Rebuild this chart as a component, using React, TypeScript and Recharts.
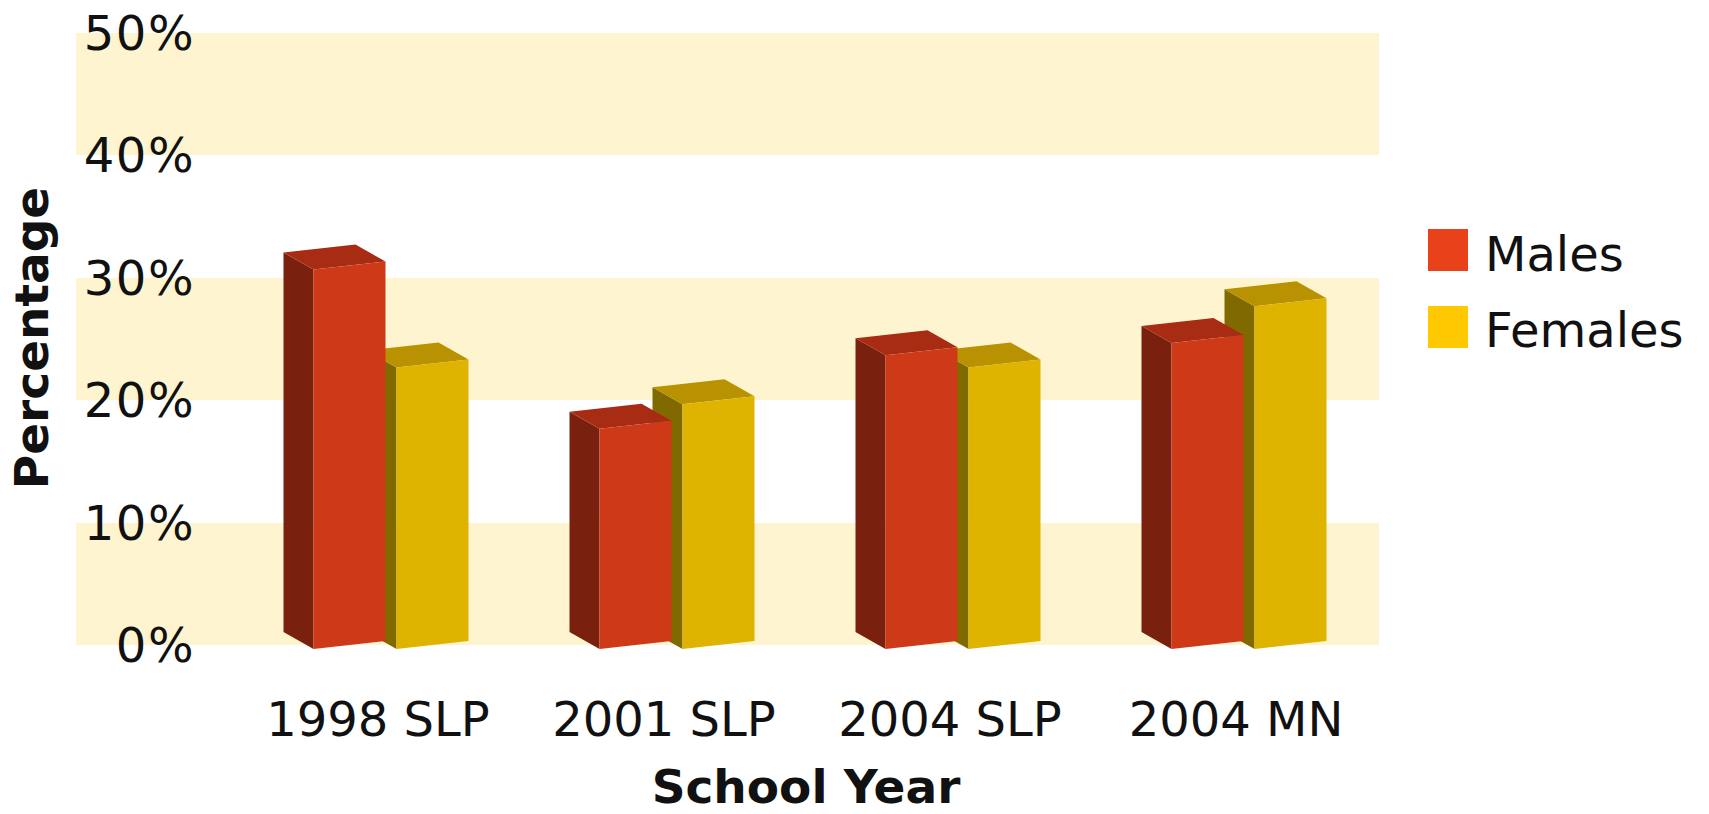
import React from 'react';
import { BarChart, Bar, XAxis, YAxis, CartesianGrid, Legend, Label } from 'recharts';

const categories = ['1998 SLP', '2001 SLP', '2004 SLP', '2004 MN'];
const males = [31, 18, 24, 25];
const females = [23, 20, 23, 28];
const yTicks = [0, 10, 20, 30, 40, 50];
const seriesNames = ['Males', 'Females'];
const legendColors = ['#E9411A', '#FFC800'];

const data = categories.map((c, i) => ({ category: c, Males: males[i], Females: females[i] }));

const FONT = '"DejaVu Sans", Verdana, sans-serif';
const DX = 30;
const DY = 17;
const SL = 4;

const Bar3D = (props: any) => {
  const { x, y, width, height, front, side, top } = props;
  if (x == null || y == null || width == null || height == null) return null;
  const x0 = x;
  const x1 = x + width;
  const yt = y;
  const yb = y + height;
  const frontPts = `${x0},${yt + SL} ${x1},${yt - SL} ${x1},${yb - SL} ${x0},${yb + SL}`;
  const sidePts = `${x0},${yt + SL} ${x0 - DX},${yt + SL - DY} ${x0 - DX},${yb + SL - DY} ${x0},${yb + SL}`;
  const topPts = `${x0},${yt + SL} ${x1},${yt - SL} ${x1 - DX},${yt - SL - DY} ${x0 - DX},${yt + SL - DY}`;
  return (
    <g>
      <polygon points={sidePts} fill={side} />
      <polygon points={topPts} fill={top} />
      <polygon points={frontPts} fill={front} />
    </g>
  );
};

const CatTick = (props: any) => {
  const { x, y, payload } = props;
  return (
    <text x={x} y={y} dy={61} textAnchor="middle" fontSize={48} fontFamily={FONT} fill="#111">
      {payload.value}
    </text>
  );
};

const PctTick = (props: any) => {
  const { y, payload } = props;
  return (
    <text x={195} y={y} dy={17} textAnchor="end" fontSize={48} letterSpacing={1.5} fontFamily={FONT} fill="#111">
      {`${payload.value}%`}
    </text>
  );
};

const LegendContent = () => (
  <svg width={275} height={150} style={{ display: 'block', overflow: 'visible' }}>
    {seriesNames.map((n, i) => (
      <g key={n}>
        <rect x={0} y={i * 77} width={40} height={42} fill={legendColors[i]} />
        <text x={57} y={42 + i * 76} fontSize={48} fontFamily={FONT} fill="#111">
          {n}
        </text>
      </g>
    ))}
  </svg>
);

export default function App() {
  return (
    <div style={{ width: 1709, height: 814, marginLeft: -8, marginTop: -8 }}>
      <BarChart
        width={1709}
        height={814}
        data={data}
        margin={{ top: 33, right: 330, bottom: 0, left: 0 }}
        style={{ fontFamily: FONT }}
      >
        <CartesianGrid
          xAxisId="lbl"
          vertical={false}
          horizontal={true}
          stroke="none"
          horizontalFill={['#FEF5D0', '#FFFFFF']}
        />
        <XAxis
          xAxisId="lbl"
          dataKey="category"
          padding={{ left: 159, right: 0 }}
          height={169}
          axisLine={false}
          tickLine={false}
          tickSize={0}
          tickMargin={0}
          interval={0}
          tick={<CatTick />}
        >
          <Label
            content={() => (
              <text x={806} y={803} textAnchor="middle" fontSize={47} fontWeight="bold" fontFamily={FONT} fill="#111">
                School Year
              </text>
            )}
          />
        </XAxis>
        <XAxis xAxisId="m" dataKey="category" hide padding={{ left: 130.5, right: 28.5 }} />
        <XAxis xAxisId="f" dataKey="category" hide padding={{ left: 213.5, right: -54.5 }} />
        <YAxis
          width={76}
          domain={[0, 50]}
          ticks={yTicks}
          axisLine={false}
          tickLine={false}
          tick={<PctTick />}
          interval={0}
        >
          <Label
            content={() => (
              <text
                x={48}
                y={338}
                transform="rotate(-90, 48, 338)"
                textAnchor="middle"
                fontSize={47}
                fontWeight="bold"
                fontFamily={FONT}
                fill="#111"
              >
                Percentage
              </text>
            )}
          />
        </YAxis>
        <Legend
          layout="vertical"
          align="center"
          verticalAlign="middle"
          content={<LegendContent />}
          wrapperStyle={{ position: 'absolute', left: 1428, top: 229, width: 275, height: 150 }}
        />
        <Bar
          xAxisId="f"
          dataKey="Females"
          name="Females"
          barSize={72}
          fill="#DEB400"
          isAnimationActive={false}
          shape={(p: any) => <Bar3D {...p} front="#DEB400" side="#806A00" top="#B89200" />}
        />
        <Bar
          xAxisId="m"
          dataKey="Males"
          name="Males"
          barSize={72}
          fill="#CE3A18"
          isAnimationActive={false}
          shape={(p: any) => <Bar3D {...p} front="#CE3A18" side="#7A200E" top="#A82C14" />}
        />
      </BarChart>
    </div>
  );
}
